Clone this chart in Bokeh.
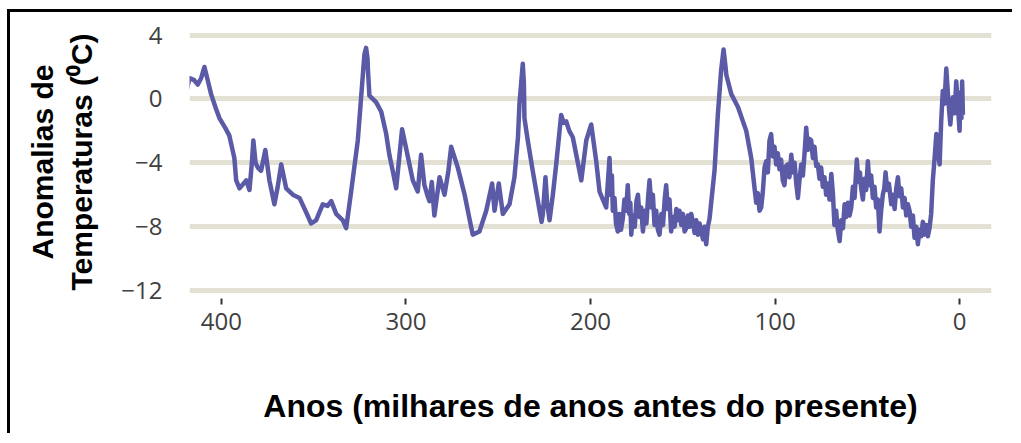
from bokeh.plotting import figure
from bokeh.models import Range1d, FixedTicker
from bokeh.embed import file_html
from bokeh.resources import INLINE

# Age (thousands of years before present) and temperature anomaly (°C)
ages = [
    419.1, 417.3, 415.0, 412.8, 411.0, 409.2, 407.5, 405.6, 403.0, 401.1,
    398.0, 395.7, 393.0, 392.0, 390.2, 388.0, 386.6, 384.8, 383.5, 382.7,
    381.5, 380.3, 378.5, 376.2, 374.0, 371.3, 369.5, 367.6, 366.0, 364.9,
    361.3, 357.7, 354.1, 351.4, 348.7, 345.1, 342.5, 340.5, 337.8, 334.2,
    332.4, 329.7, 326.1, 324.3, 322.5, 321.6, 320.8, 320.6, 319.8, 316.2,
    313.4, 310.7, 309.0, 307.0, 305.3, 302.1, 299.9, 296.3, 293.6, 291.8,
    290.0, 288.5, 287.3, 286.0, 284.6, 281.8, 279.1, 277.0, 275.5, 271.9,
    268.2, 265.6, 263.8, 260.2, 256.5, 253.3, 252.0, 249.7, 247.5, 243.9,
    241.2, 239.3, 238.5, 237.2, 236.7, 236.1, 235.8, 234.0, 231.3, 227.6,
    226.5, 225.8, 224.4, 223.5, 222.2, 220.4, 218.6, 215.9, 214.5, 213.2,
    211.5, 209.6, 206.0, 205.0, 202.3, 199.6, 196.9, 195.1, 191.5,
    189.7, 189.0, 188.4, 187.9, 187.0, 186.2, 185.2, 184.4, 183.5, 182.5,
    181.6, 180.7, 179.8, 179.0, 178.4, 177.9, 177.0, 176.0, 175.1, 174.3,
    173.4, 172.5, 171.6, 170.6, 169.7, 168.8, 168.0, 167.0, 166.2, 165.3,
    164.4, 163.5, 162.6, 161.6, 160.7, 159.8, 159.0, 158.1, 157.2, 156.3,
    155.3, 154.4, 153.5, 152.6, 151.8, 150.8, 149.9, 149.0, 148.1, 147.2,
    146.3, 145.4, 144.5, 143.6, 142.7, 141.8, 140.9, 140.0, 139.0, 138.2,
    137.3, 136.4, 135.5, 132.8, 131.0, 129.2, 127.9, 127.0, 126.4, 123.7,
    120.1, 115.6, 112.9,
    111.1, 110.2, 109.3, 108.4, 107.5, 106.6, 105.7, 104.8, 103.9, 103.0,
    102.1, 101.2, 100.3, 99.4, 98.5, 97.6, 96.7, 95.8, 94.9, 94.0,
    93.1, 92.2, 91.2, 90.3, 89.4, 88.5, 87.6, 86.7, 85.8, 84.9,
    84.0, 83.1, 82.2, 81.3, 80.4, 79.5, 78.6, 77.7, 76.8, 75.9,
    75.0, 74.1, 73.2, 72.3, 71.4, 70.5, 69.5, 68.6, 67.8, 66.9,
    66.0, 65.0, 64.1, 63.2, 62.3, 61.4, 60.5, 59.6, 58.7, 57.8,
    56.9, 55.7, 54.8, 54.0, 53.3, 52.4, 51.5, 50.6, 49.7, 48.8,
    47.9, 47.0, 46.1, 45.2, 44.3, 43.4, 42.5, 41.6, 40.8, 40.1,
    39.2, 38.3, 37.0, 36.1, 35.2, 34.3, 33.4, 32.5, 31.6, 30.7,
    29.8, 28.9, 28.0, 27.1, 26.2, 25.3, 24.4, 23.5, 22.6, 21.7,
    20.8, 19.9, 19.0, 18.1, 17.2, 16.3, 15.4, 14.5, 13.6, 12.6,
    11.7, 10.8, 10.0, 9.1, 8.2, 7.2, 6.8, 6.3, 5.6, 5.0,
    4.3, 3.6, 2.7, 1.8, 0.9, 0.0, -0.5, -1.0, -1.4, -1.8,
]
temps = [
    0.4, 1.3, 1.2, 0.9, 1.3, 2.0, 1.2, 0.3, -0.6, -1.2,
    -1.8, -2.3, -3.7, -5.1, -5.6, -5.3, -5.1, -5.7, -4.0, -2.6,
    -4.0, -4.3, -4.5, -3.2, -5.1, -6.6, -5.5, -4.1, -5.0, -5.6,
    -6.0, -6.2, -7.1, -7.8, -7.6, -6.6, -6.7, -6.4, -7.2, -7.6,
    -8.1, -5.8, -2.6, 0.1, 2.8, 3.2, 2.5, 1.8, 0.2, -0.2,
    -0.8, -2.2, -3.5, -4.6, -5.6, -1.9, -3.1, -5.1, -5.8, -3.5,
    -5.4, -6.0, -6.4, -5.2, -7.3, -4.9, -6.0, -4.5, -3.0, -4.3,
    -6.0, -7.5, -8.5, -8.3, -7.0, -5.3, -7.0, -5.3, -7.2, -6.6,
    -4.9, -2.4, -0.3, 1.5, 2.2, 1.0, -1.2, -2.6, -4.5, -7.0,
    -7.7, -7.2, -4.9, -6.5, -7.6, -6.0, -4.1, -1.0, -1.5, -1.4,
    -2.0, -2.4, -4.5, -5.1, -2.6, -1.6, -3.9, -5.8, -6.8,
    -3.7, -6.0, -4.8, -7.0, -6.2, -7.8, -8.3, -7.2, -8.2, -7.5,
    -6.3, -7.0, -5.4, -7.2, -6.5, -8.5, -7.3, -8.0, -6.4, -6.0,
    -7.4, -6.8, -8.3, -7.0, -7.8, -6.2, -5.1, -6.8, -6.0, -7.9,
    -7.0, -8.2, -8.5, -7.2, -7.9, -6.3, -5.4, -6.9, -6.3, -8.3,
    -7.4, -8.0, -6.9, -7.6, -7.0, -7.9, -7.2, -8.3, -8.1, -7.3,
    -8.0, -7.2, -7.7, -8.4, -7.6, -8.5, -7.8, -8.3, -8.8, -8.0,
    -9.1, -8.0, -7.5, -4.5, -1.0, 1.8, 3.1, 2.2, 1.5, 0.3,
    -0.5, -2.0, -3.7,
    -5.6, -6.5, -5.9, -7.0, -6.8, -5.8, -4.3, -3.9, -4.6, -2.6,
    -2.2, -3.6, -3.0, -4.1, -3.4, -4.4, -3.8, -5.1, -5.4, -4.2,
    -4.1, -4.9, -3.5, -4.6, -4.0, -5.3, -6.2, -5.0, -4.1, -4.8,
    -3.4, -1.8, -3.2, -2.5, -2.6, -3.7, -3.0, -4.2, -4.1, -5.0,
    -4.3, -5.5, -4.9, -6.0, -5.3, -6.3, -4.7, -6.0, -7.9, -7.0,
    -8.2, -8.9, -7.6, -8.1, -6.6, -7.4, -6.5, -7.3, -6.8, -5.5,
    -6.2, -3.8, -5.2, -4.6, -5.6, -6.3, -5.0, -5.7, -3.9, -5.4,
    -4.8, -6.2, -5.5, -6.8, -6.3, -8.3, -7.0, -6.0, -5.6, -4.6,
    -5.7, -5.3, -6.6, -6.0, -6.9, -5.6, -4.9, -6.1, -5.6, -6.8,
    -6.2, -7.3, -6.6, -7.0, -8.0, -7.3, -8.7, -8.0, -9.1, -8.2,
    -8.6, -7.7, -8.5, -7.9, -8.6, -8.1, -7.2, -5.1, -3.8, -2.2,
    -3.4, -4.1, -1.5, 0.5, -0.3, 1.9, 1.2, 0.3, -0.8, -1.6,
    -0.5, 0.1, -0.9, 1.1, -0.4, -2.0, 0.4, -1.2, 1.1, -1.0,
]

x_ticks = [400, 300, 200, 100, 0]
y_ticks = [4, 0, -4, -8, -12]
y_tick_labels = {4: "4", 0: "0", -4: "\u22124", -8: "\u22128", -12: "\u221212"}

p = figure(
    width=1005, height=424,
    x_range=Range1d(417.3, -17.3), y_range=Range1d(-12.5, 4.6),
    output_backend="svg", toolbar_location=None,
    min_border_left=179, min_border_right=24, min_border_top=13, min_border_bottom=138,
)
p.styles = {"border-top": "3px solid black", "border-left": "3px solid black",
            "margin-left": "7px", "margin-top": "9px"}
p.outline_line_color = None
p.background_fill_color = "white"

p.xgrid.grid_line_color = None
p.ygrid.grid_line_color = "#e3e1d3"
p.ygrid.grid_line_width = 5

p.xaxis.ticker = FixedTicker(ticks=x_ticks)
p.yaxis.ticker = FixedTicker(ticks=y_ticks)
p.yaxis.major_label_overrides = y_tick_labels

for ax in (p.xaxis[0], p.yaxis[0]):
    ax.axis_line_color = None
    ax.minor_tick_line_color = None
    ax.major_label_text_font = "Open Sans"
    ax.major_label_text_font_size = "24px"
    ax.major_label_text_color = "#404040"
    ax.axis_label_text_font = "Liberation Sans"
    ax.axis_label_text_font_style = "bold"
    ax.axis_label_text_color = "black"

p.xaxis.major_tick_in = 0
p.xaxis.major_tick_out = 6
p.xaxis.major_tick_line_color = "#333333"
p.xaxis.major_tick_line_width = 2
p.xaxis.major_label_standoff = 8
p.xaxis.axis_label = "Anos (milhares de anos antes do presente)"
p.xaxis.axis_label_text_font_size = "32px"
p.xaxis.axis_label_standoff = 55

p.yaxis.major_tick_in = 0
p.yaxis.major_tick_out = 0
p.yaxis.major_label_standoff = 27
p.yaxis.axis_label = "Anomalias de\nTemperaturas (\u2070C)"
p.yaxis.axis_label_text_font_size = "30px"
p.yaxis.axis_label_standoff = 20

p.line(ages, temps, line_color="#5a5aa6", line_width=4.5, line_join="round")

open("out.html", "w").write(file_html(p, INLINE))
